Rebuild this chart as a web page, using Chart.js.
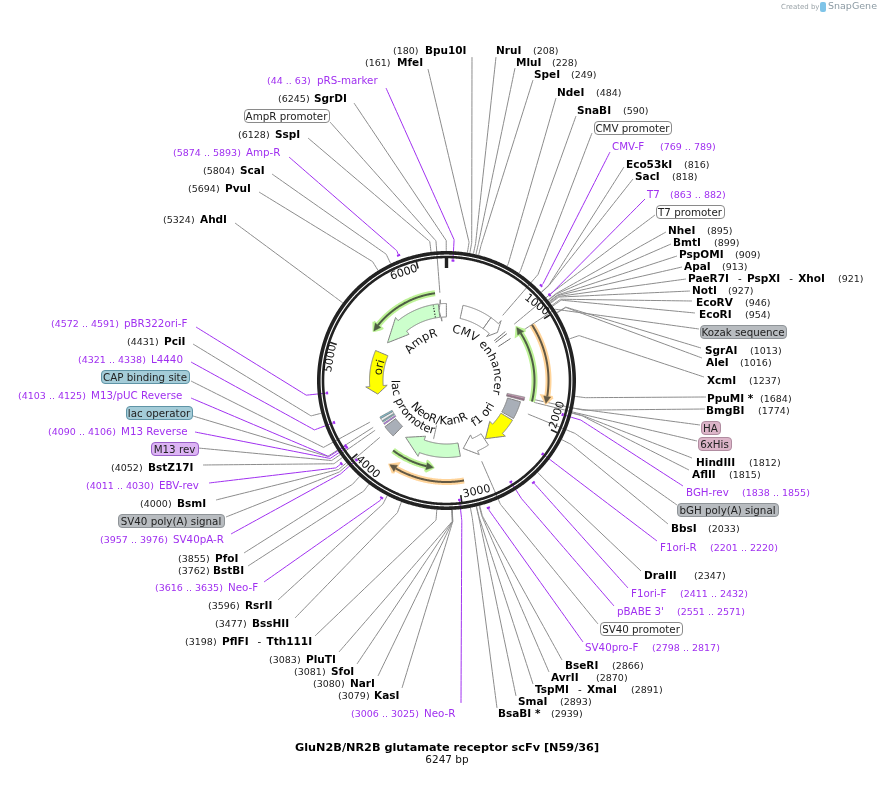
<!DOCTYPE html>
<html><head><meta charset="utf-8"><title>GluN2B/NR2B glutamate receptor scFv [N59/36]</title>
<style>html,body{margin:0;padding:0;background:#fff}canvas{display:block}</style>
<script src="https://cdn.jsdelivr.net/npm/chart.js@4"></script></head>
<body><canvas id="c" width="878" height="797"></canvas>
<script>
const plasmidTitle = "GluN2B/NR2B glutamate receptor scFv [N59/36]";
const plasmidLength = 6247;
const tickValues = [1000,2000,3000,4000,5000,6000];

const enzymeNames = ["AhdI","PvuI","ScaI","SspI","SgrDI","MfeI","Bpu10I","NruI","MluI","SpeI","NdeI","SnaBI","Eco53kI","SacI","NheI","BmtI","PspOMI","ApaI","PaeR7I - PspXI - XhoI","NotI","EcoRV","EcoRI","SgrAI","AleI","XcmI","PpuMI *","BmgBI","HindIII","AflII","BbsI","DraIII","BseRI","AvrII","TspMI - XmaI","SmaI","BsaBI *","KasI","NarI","SfoI","PluTI","PflFI - Tth111I","BssHII","RsrII","BstBI","PfoI","BsmI","BstZ17I","PciI"];
const enzymeSites = [5324,5694,5804,6128,6245,161,180,208,228,249,484,590,816,818,895,899,909,913,921,927,946,954,1013,1016,1237,1684,1774,1812,1815,2033,2347,2866,2870,2891,2893,2939,3079,3080,3081,3083,3198,3477,3596,3762,3855,4000,4052,4431];

const primerNames = ["pRS-marker","Amp-R","CMV-F","T7","BGH-rev","F1ori-R","F1ori-F","pBABE 3'","SV40pro-F","Neo-R","Neo-F","SV40pA-R","EBV-rev","M13 Reverse","M13/pUC Reverse","L4440","pBR322ori-F"];
const primerStarts = [44,5874,769,863,1838,2201,2411,2551,2798,3006,3616,3957,4011,4090,4103,4321,4572];
const primerEnds = [63,5893,789,882,1855,2220,2432,2571,2817,3025,3635,3976,4030,4106,4125,4338,4591];

const calloutNames = ["AmpR promoter","CMV promoter","T7 promoter","Kozak sequence","HA","6xHis","bGH poly(A) signal","SV40 promoter","SV40 poly(A) signal","M13 rev","lac operator","CAP binding site"];
const calloutSites = [6172,708,872,985,1775,1805,1950,2715,3983,4080,4120,4190];

const arrowNames = ["AmpR","ori","CMV promoter","f1 ori","SV40 promoter","NeoR/KanR","AmpR promoter"];
const arrowTails = [6142,5083,612,2100,2551,2943,6245];
const arrowTips = [5250,4491,810,2538,2883,3743,6143];
const arrowNecks = [5571,4606,735,2315,2710,3480,6170];

const bandNames = ["CMV enhancer","bGH poly(A) signal","SV40 poly(A) signal"];
const bandStarts = [215,1840,3885];
const bandEnds = [612,2075,4045];

const thinNames = ["T7 promoter","unnamed","Kozak sequence","HA","6xHis","M13 rev","lac operator","lac promoter","CAP binding site"];
const thinStarts = [872,905,985,1770,1797,4072,4107,4130,4165];
const thinEnds = [874,907,987,1797,1815,4090,4125,4165,4187];

const spanTails = [6117,1801,987,3772,2951];
const spanTips = [5281,919,1786,3272,3713];

const curvedNames = ["CMV enhancer","AmpR","ori","f1 ori","NeoR/KanR","lac promoter"];
const curvedMidSites = [975,5678,4876,2310,3344,4027];

/* ---------- layout and style, kept apart from the values ---------- */
const CX=446.5, CY=380.5;
// [nameX,posX,y,anchorX,anchorY,elbowRadius]
const enzymeLayout=[[200,163,219,235,223,140],[225,188,188,259,192,140],[240,203,170,272,174,140],[275,238,134,308,138,140],[314,278,98,354,103,140],[397,365,62,428,69,140],[425,393,50,472,57,140],[496,533,50,496,57,140],[516,552,62,515,68,140],[534,571,74,533,80,140],[557,596,92,556,98,132],[577,623,110,576,116,132],[626,684,164,624,167,140],[635,672,176,633,179,140],[668,707,230,666,232,140],[673,714,242,671,244,140],[679,735,254,677,256,140],[684,722,266,682,267,140],[688,838,278,686,279,140],[692,728,290,690,291,140],[696,745,302,692,301,140],[699,745,314,695,313,140],[705,750,350,701,348,140],[706,740,362,702,358,140],[707,749,380,704,377,140],[707,760,398,706,397,140],[706,758,410,705,409,140],[696,749,462,692,458,140],[692,729,474,689,470,140],[671,708,528,668,524,140],[644,694,575,641,571,140],[565,612,665,562,660,140],[551,596,677,549,672,140],[535,631,689,533,684,140],[518,560,701,516,696,140],[498,551,713,497,708,140],[374,338,695,402,688,141],[350,313,683,378,676,141],[331,294,671,357,664,141],[306,269,659,339,652,141],[222,185,641,315,636,140],[252,215,623,295,618,141],[245,208,605,278,600,139],[213,178,570,248,566,138],[215,178,558,244,553,140],[177,140,503,216,500,140],[148,111,467,203,465,140],[164,127,341,193,344,140]];
// [nameX,posX,y,anchorX,anchorY,tickRadius,elbowRadius]
const primerLayout=[[317,267,80,386,88,120,141],[246,173,152,289,157,134,139],[612,660,146,610,152,134,137],[647,670,194,645,199,134,137],[686,742,492,683,486,121,140],[660,710,547,657,541,121,140],[631,680,593,628,588,134,137],[617,677,611,614,606,120,140],[585,652,647,583,642,134,137],[424,351,713,461,703,120,141],[228,155,587,264,582,134,137],[173,100,539,231,534,120,141],[159,86,485,209,483,134,141],[121,48,431,195,432,120,140],[91,18,395,191,398,120,140],[151,78,359,191,362,120,141],[124,51,323,196,327,120,141]];
// [left,right,y,anchorX,anchorY,elbowRadius,fill,border]
const calloutLayout=[[244,329,116,330,122,140,"#ffffff","#8a8a8a"],[594,671,128,592,133,140,"#ffffff","#8a8a8a"],[656,724,212,655,215,140,"#ffffff","#8a8a8a"],[700,786,332,699,329,130,"#b8bcc0","#8f9498"],[701,720,428,700,425,131,"#dcb4c8","#b08ca0"],[698,731,444,697,441,131,"#dcb4c8","#b08ca0"],[677,778,510,677,505,139,"#b8bcc0","#8f9498"],[600,682,629,598,624,135,"#ffffff","#8a8a8a"],[118,224,521,226,517,141,"#b8bcc0","#8f9498"],[151,198,449,198,448,140,"#dcb4f4","#9a60c8"],[126,192,413,193,416,141,"#a4ccd8","#5f94a6"],[101,189,377,191,381,140,"#a4ccd8","#5f94a6"]];
const calloutStartR=[88,86,88,88,90,90,88,88,87.5,87,87,87];
const arrowFills=["#ccffcc","#ffff00","#ffffff","#ffff00","#ffffff","#ccffcc","#ffffff"];
const bandFills=["#ffffff","#a9afb8","#a9afb8"];
const thinFills=["#666666","#666666","#666666","#c89ab4","#a86a90","#b060f0","#80c0d0","#e8eef0","#80c0d0"];
const spanRadii=[88,88,102,88,101.5];
const spanHalos=["#bdf296","#bdf296","#ffd49a","#bdf296","#ffd49a"];
const spanCores=["#4e5e44","#4e5e44","#625844","#4e5e44","#625844"];
const curvedRadii=[48,45,65,54,44,55];
const curvedFlip=[false,false,false,true,true,true];
// centre x, centre y, rotation in degrees
const tickLabelPlace=[[536.7,305,38],[557.3,415,-72],[476.7,491.7,-12],[367.7,467.3,42],[330.7,358.3,-80],[404,272.7,-18]];

const PURPLE="#a030f0", LEADER="#8c8c8c", FONT='"DejaVu Sans"';

/* ---------- geometry ---------- */
const polar=(bp,r)=>{const a=bp/plasmidLength*2*Math.PI;return {x:CX+r*Math.sin(a),y:CY-r*Math.cos(a)}};
function arc(a,b,r){const n=Math.max(2,Math.ceil(Math.abs(b-a)/12)),o=[];for(let i=0;i<=n;i++)o.push(polar(a+(b-a)*i/n,r));return o}

const ds=[];
const line=(data,color,width,extra)=>ds.push(Object.assign({data,showLine:true,borderColor:color,borderWidth:width,pointRadius:0,fill:false,tension:0.0001,borderJoinStyle:'round',borderCapStyle:'butt'},extra||{}));
const poly=(pts,fill,border,width)=>line(pts.concat([pts[0]]),border,width===undefined?1:width,{fill:'shape',backgroundColor:fill,borderJoinStyle:'miter'});

/* leaders first so that ring and features sit on top */
enzymeNames.forEach((n,i)=>{const L=enzymeLayout[i];line([polar(enzymeSites[i],129.5),polar(enzymeSites[i],L[5]),{x:L[3],y:L[4]}],LEADER,1)});
calloutNames.forEach((n,i)=>{const L=calloutLayout[i];line([polar(calloutSites[i],calloutStartR[i]),polar(calloutSites[i],L[5]),{x:L[3],y:L[4]}],LEADER,1)});
primerNames.forEach((n,i)=>{const L=primerLayout[i],m=(primerStarts[i]+primerEnds[i])/2;line([polar(m,L[5]),polar(m,L[6]),{x:L[3],y:L[4]}],PURPLE,1)});

/* backbone */
line(arc(0,plasmidLength,127.7),"#222222",3.6);
line(arc(0,plasmidLength,123.5),"#222222",2.6);
tickValues.forEach(t=>line([polar(t,122.5),polar(t,115.5)],"#222222",1.6));
line([polar(0,122.5),polar(0,112.5)],"#222222",3.4);

/* primer sites */
primerNames.forEach((n,i)=>{const L=primerLayout[i],m=(primerStarts[i]+primerEnds[i])/2,h=Math.max(12,(primerEnds[i]-primerStarts[i])/2);line([polar(m-h,L[5]),polar(m+h,L[5])],PURPLE,2)});

/* bands */
bandNames.forEach((n,i)=>poly(arc(bandStarts[i],bandEnds[i],77).concat(arc(bandEnds[i],bandStarts[i],63.5)),bandFills[i],"#808080",1));

/* arrow features */
arrowNames.forEach((n,i)=>{
  const t=arrowTails[i],p=arrowTips[i],k=arrowNecks[i];
  const pts=arc(t,k,77).concat([polar(k,81),polar(p,70),polar(k,59.5)]).concat(arc(k,t,63.5));
  poly(pts,arrowFills[i],"#808080",1);
});
/* signal peptide dotted mark */
line([polar(6074,64),polar(6074,76)],"#333333",1.2,{borderDash:[1.2,1.6]});

/* thin features */
thinNames.forEach((n,i)=>{
  if(thinEnds[i]-thinStarts[i]<5){line([polar(thinStarts[i],62),polar(thinStarts[i],76.5)],thinFills[i],1);return}
  poly(arc(thinStarts[i],thinEnds[i],i<3?76:(i<5?80:76)).concat(arc(thinEnds[i],thinStarts[i],62)),thinFills[i],"#707070",0.6);
});
/* NeoR/KanR text tie */
line([polar(arrowTips[5]-403,60),polar(arrowTips[5]-403,46)],LEADER,1);

/* highlighted spans with arrowheads */
spanTails.forEach((t,i)=>{
  const r=spanRadii[i],sgn=spanTips[i]>t?1:-1,perPx=plasmidLength/(2*Math.PI*r);
  const neck=spanTips[i]-sgn*7*perPx, tip=spanTips[i];
  line(arc(t,neck,r),spanHalos[i],6);
  poly([polar(neck,r+5.5),polar(tip,r),polar(neck,r-5.5)],spanHalos[i],spanHalos[i],2.5);
  line(arc(t,neck,r),spanCores[i],2);
  poly([polar(neck,r+3.5),polar(tip,r),polar(neck,r-3.5)],spanCores[i],spanCores[i],0.5);
});
ds.reverse();

/* ---------- text plugin ---------- */
const textPlugin={id:'plasmidText',afterDatasetsDraw(chart){
  const c=chart.ctx,sx=chart.scales.x,sy=chart.scales.y,X=v=>sx.getPixelForValue(v),Y=v=>sy.getPixelForValue(v);
  const bold='bold 10.5px '+FONT,reg='10.3px '+FONT,small='9.5px '+FONT;
  c.save();c.textBaseline='middle';c.textAlign='left';
  const put=(s,x,y,font,col)=>{c.font=font;c.fillStyle=col;c.fillText(s,X(x),Y(y))};
  enzymeNames.forEach((n,i)=>{const L=enzymeLayout[i];
    let x=L[0];
    n.split(' - ').forEach((part,k)=>{
      if(k>0){put('-',x+9,L[2]+1,reg,'#111');x+=18}
      put(part,x,L[2]+1,bold,'#000');c.font=bold;x+=c.measureText(part).width;
    });
    put('('+enzymeSites[i]+')',L[1],L[2]+1.5,small,'#222');
  });
  primerNames.forEach((n,i)=>{const L=primerLayout[i];
    put(n,L[0],L[2]+1,reg,PURPLE);
    put('('+primerStarts[i]+' .. '+primerEnds[i]+')',L[1],L[2]+1.5,small,PURPLE);
  });
  calloutNames.forEach((n,i)=>{const L=calloutLayout[i],x=X(L[0]),w=X(L[1])-x,y=Y(L[2]);
    c.beginPath();c.roundRect(x+.5,y-6.5,w,13,3.5);c.fillStyle=L[6];c.fill();c.lineWidth=1;c.strokeStyle=L[7];c.stroke();
    c.font=reg;c.fillStyle='#222';c.textAlign='center';c.fillText(n,x+w/2,y+1);c.textAlign='left';
  });
  /* tick labels */
  tickValues.forEach((t,i)=>{const P=tickLabelPlace[i];c.save();c.translate(X(P[0]),Y(P[1]));c.rotate(P[2]*Math.PI/180);c.font='11px '+FONT;c.fillStyle='#111';c.textAlign='center';c.fillText(String(t),0,0);c.restore()});
  /* curved feature names */
  curvedNames.forEach((s,i)=>{
    const r=curvedRadii[i],flip=curvedFlip[i],mid=curvedMidSites[i]/plasmidLength*2*Math.PI;
    c.font='11.5px '+FONT;c.fillStyle='#111';c.textAlign='center';c.textBaseline='alphabetic';
    const tot=c.measureText(s).width;let run=0;
    for(const ch of s){const w=c.measureText(ch).width,off=(run+w/2-tot/2)/r,th=flip?mid-off:mid+off,p=polar(th/(2*Math.PI)*plasmidLength,r);
      c.save();c.translate(p.x,p.y);c.rotate(flip?th+Math.PI:th);c.fillText(ch,0,0);c.restore();run+=w}
    c.textAlign='left';c.textBaseline='middle';
  });
  /* title */
  c.textAlign='center';
  put(plasmidTitle,447,748,'bold 11.25px '+FONT,'#000');
  put(plasmidLength+' bp',447,760,'10.5px '+FONT,'#111');
  /* credit */
  c.textAlign='left';
  put('Created by',781,7,'7px '+FONT,'#9aa3a8');
  c.fillStyle='#7fc4e8';c.beginPath();c.roundRect(X(820),Y(2),6,10,2);c.fill();
  put('SnapGene',828,7,'9.5px '+FONT,'#8b9aa3');
  c.restore();
}};

new Chart(document.getElementById('c'),{type:'scatter',data:{datasets:ds},plugins:[textPlugin],options:{responsive:false,animation:false,events:[],layout:{padding:0},
  plugins:{legend:{display:false},tooltip:{enabled:false},title:{display:false}},
  scales:{x:{type:'linear',min:0,max:878,display:false},y:{type:'linear',min:0,max:797,reverse:true,display:false}}}});
</script></body></html>
